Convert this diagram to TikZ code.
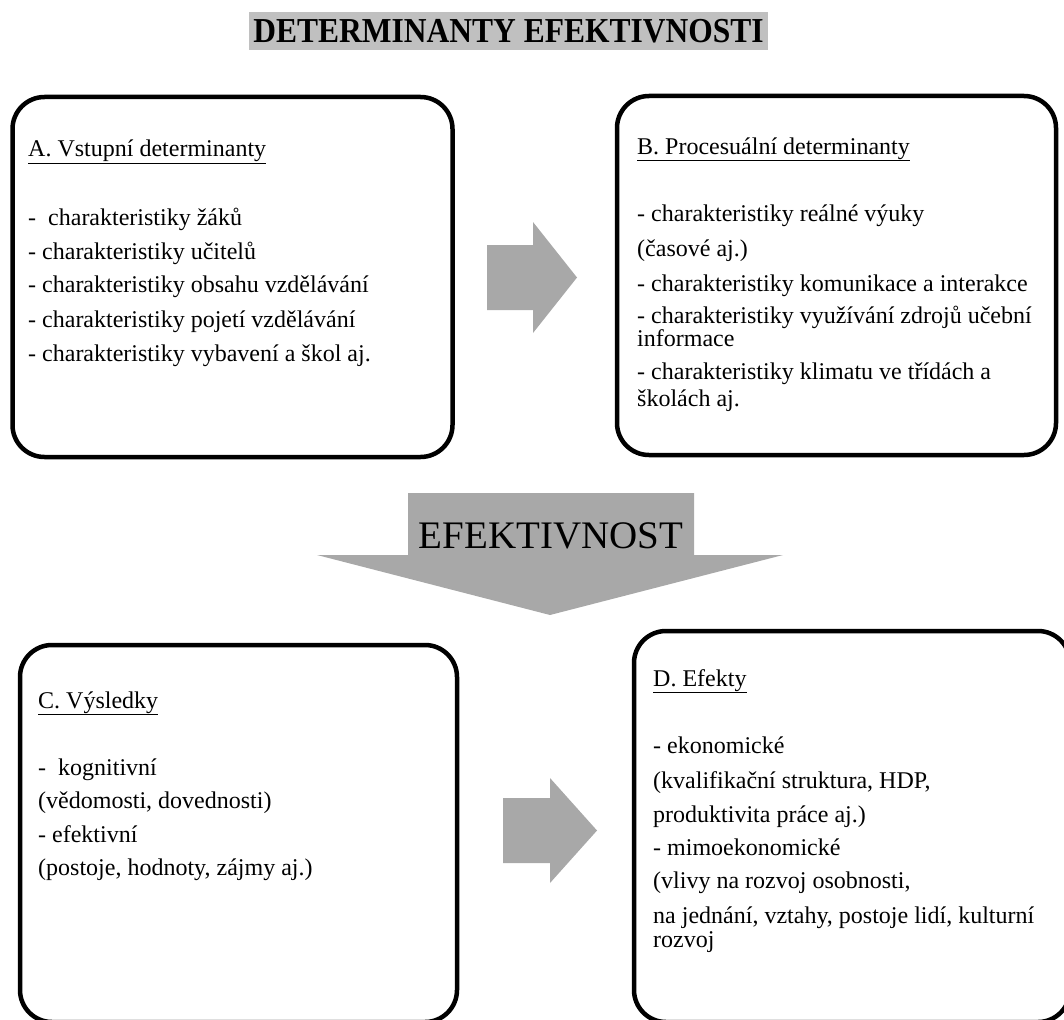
\documentclass[tikz,border=0pt]{standalone}
\usepackage{fontspec}
\setmainfont{Liberation Serif}
\newfontfamily\headfont[FakeStretch=0.9]{Liberation Serif}
\definecolor{titlegray}{RGB}{192,192,192}
\definecolor{arrowgray}{RGB}{168,168,168}
\begin{document}
\begin{tikzpicture}[x=1pt,y=-1pt,
  box/.style={draw=black,line width=4.5pt,rounded corners=32pt,inner sep=0pt},
  txt/.style={anchor=base west,inner sep=0pt,font=\fontsize{24}{28}\selectfont},
  blk/.style={fill=arrowgray}]
\useasboundingbox (0,0) rectangle (1064,1019);
\clip (0,0) rectangle (1064,1019);
\node[fill=titlegray,minimum width=519pt,minimum height=38pt,inner sep=0pt] (title) at (508.5,31) {};
\node[anchor=base,inner sep=0pt,font=\headfont\bfseries\fontsize{35}{35}\selectfont] (titletext) at (508.5,43) {DETERMINANTY EFEKTIVNOSTI};
\node[box,minimum width=440pt,minimum height=360pt] (boxA) at (232.5,277) {};
\node[box,minimum width=439pt,minimum height=359pt] (boxB) at (836.5,275.5) {};
\node[box,minimum width=437pt,minimum height=377pt] (boxC) at (238.5,833.5) {};
\node[box,minimum width=436pt,minimum height=391pt] (boxD) at (852,826.5) {};
\fill[blk] (487,245) -- (533,245) -- (533,222) -- (577,277.5) -- (533,333) -- (533,310) -- (487,310) -- cycle;
\fill[blk] (503,798) -- (550,798) -- (550,778) -- (597,830.5) -- (550,883) -- (550,863) -- (503,863) -- cycle;
\fill[blk] (408,493) -- (694,493) -- (694,555) -- (783,555) -- (550,615) -- (317,555) -- (408,555) -- cycle;
\node[anchor=base,inner sep=0pt,font=\fontsize{39}{39}\selectfont] (eff) at (551,548) {EFEKTIVNOST};
\node[txt] (ahead) at (28,157) {\underline{A. Vstupní determinanty}};
\node[txt] (a1) at (28,225) {- \ charakteristiky žáků};
\node[txt] (a2) at (28,259) {- charakteristiky učitelů};
\node[txt] (a3) at (28,292) {- charakteristiky obsahu vzdělávání};
\node[txt] (a4) at (28,327) {- charakteristiky pojetí vzdělávání};
\node[txt] (a5) at (28,361) {- charakteristiky vybavení a škol aj.};
\node[txt] (bhead) at (637,154) {\underline{B. Procesuální determinanty}};
\node[txt] (b1) at (637,221) {- charakteristiky reálné výuky};
\node[txt] (b2) at (637,256) {(časové aj.)};
\node[txt] (b3) at (637,291) {- charakteristiky komunikace a interakce};
\node[txt] (b4) at (637,323) {- charakteristiky využívání zdrojů učební};
\node[txt] (b5) at (637,346) {informace};
\node[txt] (b6) at (637,379) {- charakteristiky klimatu ve třídách a};
\node[txt] (b7) at (637,406) {školách aj.};
\node[txt] (chead) at (38,708) {\underline{C. Výsledky}};
\node[txt] (c1) at (38,775) {- \ kognitivní};
\node[txt] (c2) at (38,808) {(vědomosti, dovednosti)};
\node[txt] (c3) at (38,842) {- efektivní};
\node[txt] (c4) at (38,875) {(postoje, hodnoty, zájmy aj.)};
\node[txt] (dhead) at (653,686) {\underline{D. Efekty}};
\node[txt] (d1) at (653,753) {- ekonomické};
\node[txt] (d2) at (653,788) {(kvalifikační struktura, HDP,};
\node[txt] (d3) at (653,822) {produktivita práce aj.)};
\node[txt] (d4) at (653,855) {- mimoekonomické};
\node[txt] (d5) at (653,888) {(vlivy na rozvoj osobnosti,};
\node[txt] (d6) at (653,923) {na jednání, vztahy, postoje lidí, kulturní};
\node[txt] (d7) at (653,947) {rozvoj};
\end{tikzpicture}
\end{document}
